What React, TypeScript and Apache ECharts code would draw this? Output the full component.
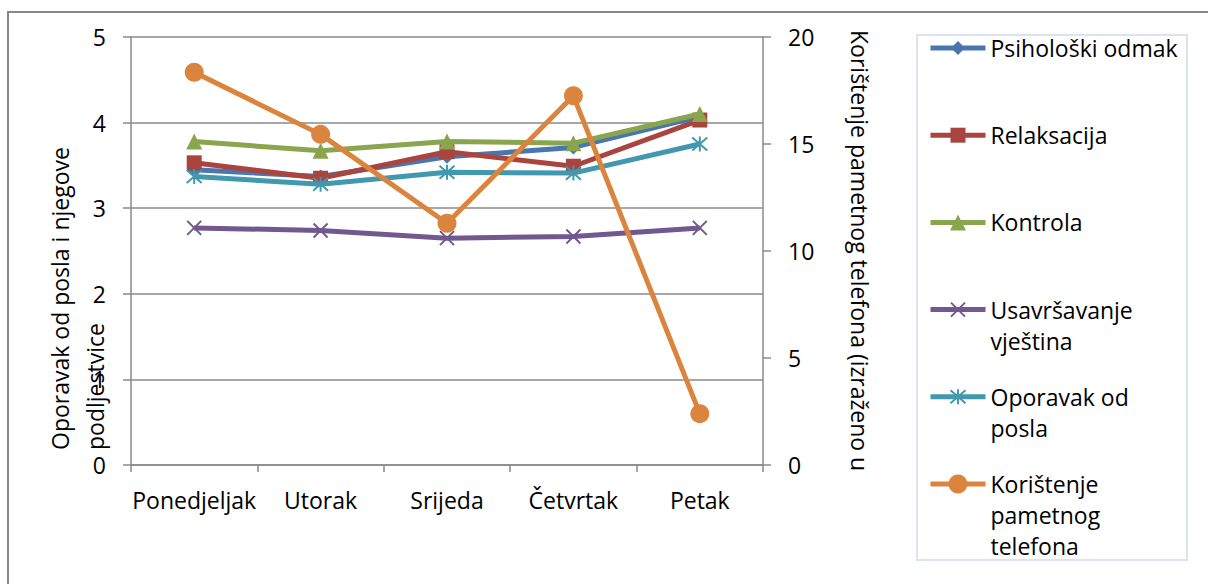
import React, { useEffect, useRef } from "react";
import * as echarts from "echarts";

const days = ["Ponedjeljak", "Utorak", "Srijeda", "Četvrtak", "Petak"];

const seriesNames = [
  "Psihološki odmak",
  "Relaksacija",
  "Kontrola",
  "Usavršavanje vještina",
  "Oporavak od posla",
  "Korištenje pametnog telefona",
];
const legendLabels = [
  "Psihološki odmak",
  "Relaksacija",
  "Kontrola",
  "Usavršavanje\nvještina",
  "Oporavak od\nposla",
  "Korištenje\npametnog\ntelefona",
];

const psiholoskiOdmak = [3.45, 3.37, 3.6, 3.71, 4.07];
const relaksacija = [3.53, 3.35, 3.66, 3.49, 4.03];
const kontrola = [3.78, 3.67, 3.78, 3.76, 4.1];
const usavrsavanje = [2.77, 2.74, 2.65, 2.67, 2.77];
const oporavak = [3.37, 3.28, 3.42, 3.41, 3.75];
const koristenje = [18.35, 15.45, 11.3, 17.25, 2.4];

const leftTitle = "Oporavak od posla i njegove\npodljestvice";
const rightTitle = "Korištenje pametnog telefona (izraženo u";

const colors = ["#4A76B0", "#A9443F", "#89A54E", "#71588F", "#4198AF", "#DB843D"];
const symbols = [
  "diamond",
  "rect",
  "triangle",
  "path://M0,0L14,14M14,0L0,14",
  "path://M0,0L14,14M14,0L0,14M7,-1L7,15",
  "circle",
];
const symbolSizes = [14, 15, 16, 14, 15, 19];
const seriesData = [psiholoskiOdmak, relaksacija, kontrola, usavrsavanje, oporavak, koristenje];

const FONT = '"Open Sans", sans-serif';
const FS = 23;
const AXIS_GRAY = "#8a8a8a";
const LINE_W = 5;

export default function App() {
  const ref = useRef<HTMLDivElement>(null);
  useEffect(() => {
    const chart = echarts.init(ref.current!, null, { renderer: "svg" });
    const L = 31;
    const legends = seriesNames.map((name, i) => {
      const n = legendLabels[i].split("\n").length;
      const yc = 48 + 87.2 * i;
      const isPath = symbols[i].startsWith("path://");
      return {
        data: [name],
        orient: "vertical",
        left: 928,
        top: yc - ((2 * n - 1) * L) / 2,
        padding: 0,
        itemWidth: 55,
        itemHeight: symbolSizes[i] / 0.8,
        selectedMode: false,
        formatter: () => "\n".repeat(n - 1) + legendLabels[i],
        lineStyle: { width: LINE_W, color: colors[i] },
        itemStyle: isPath
          ? { color: colors[i], borderColor: colors[i], borderWidth: 2 }
          : { color: colors[i], borderWidth: 0 },
        textStyle: {
          fontFamily: FONT,
          fontSize: FS,
          color: "#000",
          lineHeight: L,
        },
      };
    });

    const series = seriesNames.map((name, i) => {
      const isPath = symbols[i].startsWith("path://");
      return {
        name,
        type: "line",
        data: seriesData[i],
        yAxisIndex: i === 5 ? 1 : 0,
        symbol: symbols[i],
        symbolSize: symbolSizes[i],
        showAllSymbol: true,
        lineStyle: { color: colors[i], width: LINE_W },
        itemStyle: isPath
          ? { color: colors[i], borderColor: colors[i], borderWidth: 2 }
          : { color: colors[i] },
        z: 2 + i,
        emphasis: { disabled: true },
      };
    });

    chart.setOption({
      animation: false,
      backgroundColor: "#fff",
      grid: { left: 131, right: 445, top: 37, bottom: 119 },
      legend: legends,
      xAxis: {
        type: "category",
        data: days,
        boundaryGap: true,
        axisLine: { lineStyle: { color: AXIS_GRAY, width: 1.5 } },
        axisTick: { show: true, length: 7, lineStyle: { color: AXIS_GRAY, width: 1.5 } },
        axisLabel: { fontFamily: FONT, fontSize: FS, color: "#000", margin: 23, interval: 0 },
      },
      yAxis: [
        {
          type: "value",
          min: 0,
          max: 5,
          interval: 1,
          axisLine: { show: true, lineStyle: { color: AXIS_GRAY, width: 1.5 } },
          axisTick: { show: true, length: 8, lineStyle: { color: AXIS_GRAY, width: 1.5 } },
          splitLine: { show: true, lineStyle: { color: AXIS_GRAY, width: 1.5 } },
          axisLabel: { fontFamily: FONT, fontSize: FS, color: "#000", margin: 25 },
        },
        {
          type: "value",
          min: 0,
          max: 20,
          interval: 5,
          position: "right",
          axisLine: { show: true, lineStyle: { color: AXIS_GRAY, width: 1.5 } },
          axisTick: { show: true, length: 8, lineStyle: { color: AXIS_GRAY, width: 1.5 } },
          splitLine: { show: false },
          axisLabel: { fontFamily: FONT, fontSize: FS, color: "#000", margin: 25 },
        },
      ],
      graphic: [
        {
          type: "rect",
          shape: { x: 8, y: 12, width: 1400, height: 800 },
          style: { fill: "none", stroke: "#878787", lineWidth: 2 },
          silent: true,
        },
        {
          type: "rect",
          shape: { x: 917, y: 35, width: 270, height: 525 },
          style: { fill: "none", stroke: "#dbe3f1", lineWidth: 2 },
          silent: true,
        },
        {
          type: "text",
          x: 77,
          y: 450,
          rotation: Math.PI / 2,
          style: {
            text: leftTitle,
            fontFamily: FONT,
            fontSize: FS,
            fill: "#000",
            align: "left",
            verticalAlign: "middle",
            lineHeight: 35,
          },
        },
        {
          type: "text",
          x: 860,
          y: 30,
          rotation: -Math.PI / 2,
          style: {
            text: rightTitle,
            fontFamily: FONT,
            fontSize: FS,
            fill: "#000",
            align: "left",
            verticalAlign: "middle",
          },
        },
      ],
      series,
    });
    return () => chart.dispose();
  }, []);
  return (
    <div
      ref={ref}
      style={{ position: "fixed", left: 0, top: 0, width: 1208, height: 584, background: "#fff" }}
    />
  );
}
